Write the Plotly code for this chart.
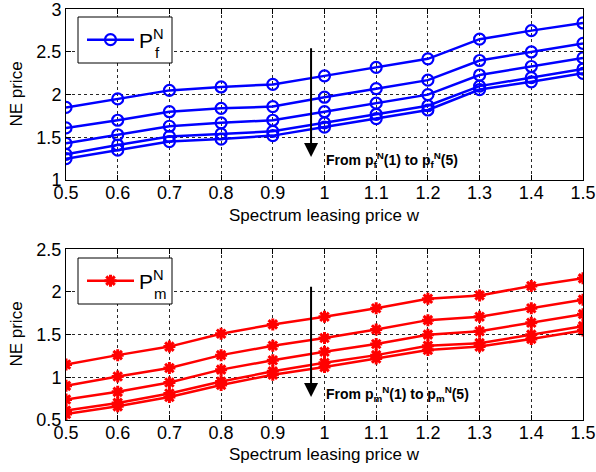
import plotly.graph_objects as go

w = [0.5, 0.6, 0.7, 0.8, 0.9, 1.0, 1.1, 1.2, 1.3, 1.4, 1.5]

pf1 = [1.85, 1.95, 2.05, 2.09, 2.12, 2.22, 2.32, 2.42, 2.65, 2.75, 2.84]
pf2 = [1.61, 1.70, 1.80, 1.84, 1.86, 1.97, 2.07, 2.17, 2.40, 2.50, 2.60]
pf3 = [1.43, 1.53, 1.63, 1.67, 1.70, 1.80, 1.90, 2.00, 2.23, 2.33, 2.43]
pf4 = [1.30, 1.41, 1.51, 1.54, 1.57, 1.67, 1.77, 1.87, 2.10, 2.20, 2.30]
pf5 = [1.25, 1.35, 1.45, 1.48, 1.52, 1.62, 1.72, 1.82, 2.06, 2.15, 2.25]

pm1 = [1.15, 1.26, 1.36, 1.51, 1.62, 1.71, 1.81, 1.92, 1.96, 2.07, 2.16]
pm2 = [0.90, 1.01, 1.11, 1.26, 1.37, 1.46, 1.56, 1.67, 1.71, 1.81, 1.91]
pm3 = [0.74, 0.83, 0.94, 1.09, 1.20, 1.30, 1.39, 1.50, 1.54, 1.64, 1.74]
pm4 = [0.61, 0.70, 0.81, 0.95, 1.07, 1.17, 1.26, 1.37, 1.40, 1.50, 1.60]
pm5 = [0.57, 0.66, 0.77, 0.91, 1.03, 1.12, 1.22, 1.32, 1.36, 1.45, 1.55]

xticks = [0.5, 0.6, 0.7, 0.8, 0.9, 1, 1.1, 1.2, 1.3, 1.4, 1.5]
xticklabels = ["0.5", "0.6", "0.7", "0.8", "0.9", "1", "1.1", "1.2", "1.3", "1.4", "1.5"]
ytop_ticks = [1, 1.5, 2, 2.5, 3]
ytop_labels = ["1", "1.5", "2", "2.5", "3"]
ybot_ticks = [0.5, 1, 1.5, 2, 2.5]
ybot_labels = ["0.5", "1", "1.5", "2", "2.5"]

BLUE = "rgb(0,0,255)"
RED = "rgb(255,0,0)"
FONT = "Liberation Sans, Arial, sans-serif"

W, H = 596, 472


def px(x):
    return x / W


def py(y):
    return 1 - y / H


fig = go.Figure()

for i, s in enumerate([pf1, pf2, pf3, pf4, pf5]):
    fig.add_trace(go.Scatter(
        x=w, y=s, mode="lines+markers",
        name="P<sup>N</sup>", showlegend=(i == 0), legend="legend",
        line=dict(color=BLUE, width=2.5),
        marker=dict(symbol="circle-open", size=11, color=BLUE, line=dict(width=2.2, color=BLUE)),
        xaxis="x", yaxis="y"))

for i, s in enumerate([pm1, pm2, pm3, pm4, pm5]):
    fig.add_trace(go.Scatter(
        x=w, y=s, mode="lines+markers",
        name="P<sup>N</sup>", showlegend=(i == 0), legend="legend2",
        line=dict(color=RED, width=2.5),
        marker=dict(symbol="asterisk-open", size=10, color=RED, line=dict(width=3, color=RED)),
        xaxis="x2", yaxis="y2"))

xdom = [px(66), px(583)]
ytop = [py(180), py(9.3)]
ybot = [py(420), py(249.3)]

axis_common = dict(
    showline=True, linecolor="black", linewidth=1, mirror="ticks",
    ticks="inside", ticklen=5, tickcolor="black", automargin=False,
    ticklabeloverflow="allow",
    showgrid=True, gridcolor="rgb(40,40,40)", griddash="dot", gridwidth=1,
    zeroline=False, tickfont=dict(family=FONT, size=18, color="black"),
)

leg_common = dict(xanchor="left", yanchor="middle", bgcolor="rgba(0,0,0,0)", borderwidth=0,
                  itemwidth=47, font=dict(family=FONT, size=21, color="black"))

fig.update_layout(
    width=W, height=H,
    margin=dict(l=0, r=0, t=0, b=0),
    paper_bgcolor="white", plot_bgcolor="white",
    font=dict(family=FONT, color="black"),
    xaxis=dict(domain=xdom, anchor="y", range=[0.5, 1.5], tickvals=xticks, ticktext=xticklabels,
               ticklabelstandoff=-4, **axis_common),
    yaxis=dict(domain=ytop, anchor="x", range=[1, 3], tickvals=ytop_ticks, ticktext=ytop_labels, **axis_common),
    xaxis2=dict(domain=xdom, anchor="y2", range=[0.5, 1.5], tickvals=xticks, ticktext=xticklabels,
                ticklabelstandoff=-4, **axis_common),
    yaxis2=dict(domain=ybot, anchor="x2", range=[0.5, 2.5], tickvals=ybot_ticks, ticktext=ybot_labels, **axis_common),
    legend=dict(x=px(82), y=py(40), **leg_common),
    legend2=dict(x=px(82), y=py(281), **leg_common),
)

# legend boxes
for (y0, y1) in [(17, 63), (258, 304)]:
    fig.add_shape(type="rect", xref="paper", yref="paper", x0=px(78), x1=px(172), y0=py(y1), y1=py(y0),
                  fillcolor="white", line=dict(color="black", width=1), layer="above")

# axis titles
for yc in [215, 454]:
    fig.add_annotation(x=px(324.5), y=py(yc), xref="paper", yref="paper", showarrow=False,
                       text="Spectrum leasing price w", xanchor="center", yanchor="middle",
                       font=dict(family=FONT, size=17, color="black"))
for yc in [94.6, 334.6]:
    fig.add_annotation(x=px(17), y=py(yc), xref="paper", yref="paper", showarrow=False,
                       text="NE price", textangle=-90, xanchor="center", yanchor="middle",
                       font=dict(family=FONT, size=17, color="black"))

# legend subscripts (stacked under the superscript N)
fig.add_annotation(x=px(153), y=py(52), xref="paper", yref="paper", showarrow=False,
                   text="f", xanchor="left", yanchor="middle", font=dict(family=FONT, size=15, color="black"))
fig.add_annotation(x=px(152), y=py(293), xref="paper", yref="paper", showarrow=False,
                   text="m", xanchor="left", yanchor="middle", font=dict(family=FONT, size=15, color="black"))

# arrows
fig.add_annotation(x=0.974, y=1.27, ax=0.974, ay=2.56, xref="x", yref="y", axref="x", ayref="y",
                   text="", showarrow=True, arrowhead=2, arrowsize=1.4, arrowwidth=2, arrowcolor="black")
fig.add_annotation(x=0.974, y=0.77, ax=0.974, ay=2.08, xref="x2", yref="y2", axref="x2", ayref="y2",
                   text="", showarrow=True, arrowhead=2, arrowsize=1.4, arrowwidth=2, arrowcolor="black")

fig.add_annotation(x=0.999, y=1.24, xref="x", yref="y", xanchor="left", yanchor="middle", showarrow=False,
                   text="<b>From p<sub>f</sub><sup>N</sup>(1) to p<sub>f</sub><sup>N</sup>(5)</b>",
                   font=dict(family=FONT, size=14, color="black"))
fig.add_annotation(x=0.999, y=0.80, xref="x2", yref="y2", xanchor="left", yanchor="middle", showarrow=False,
                   text="<b>From p<sub>m</sub><sup>N</sup>(1) to p<sub>m</sub><sup>N</sup>(5)</b>",
                   font=dict(family=FONT, size=14, color="black"))

# remove the default 8px page margin so the figure sits at the window's top-left corner
fig.write_html("out.html", config={"displayModeBar": False},
               post_script="document.body.style.margin='0';")
